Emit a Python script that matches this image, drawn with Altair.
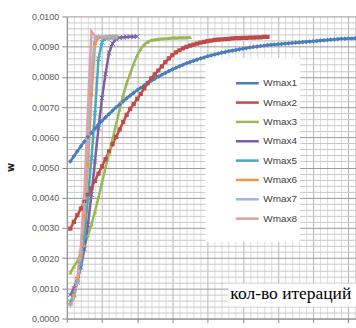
import altair as alt
import pandas as pd

series_names = ["Wmax1", "Wmax2", "Wmax3", "Wmax4", "Wmax5", "Wmax6", "Wmax7", "Wmax8"]

w1 = [0.00520, 0.00537, 0.00554, 0.00570, 0.00586, 0.00601, 0.00615, 0.00629, 0.00642, 0.00654,
      0.00666, 0.00677, 0.00688, 0.00699, 0.00709, 0.00719, 0.00729, 0.00738, 0.00747, 0.00756,
      0.00764, 0.00772, 0.00780, 0.00787, 0.00794, 0.00801, 0.00807, 0.00813, 0.00819, 0.00825,
      0.00830, 0.00835, 0.00840, 0.00845, 0.00849, 0.00853, 0.00857, 0.00861, 0.00864, 0.00868,
      0.00871, 0.00874, 0.00877, 0.00880, 0.00882, 0.00885, 0.00887, 0.00889, 0.00891, 0.00893,
      0.00895, 0.00897, 0.00899, 0.00900, 0.00902, 0.00903, 0.00905, 0.00906, 0.00907, 0.00908,
      0.00909, 0.00910, 0.00911, 0.00912, 0.00913, 0.00914, 0.00915, 0.00916, 0.00917, 0.00918,
      0.00919, 0.00920, 0.00921, 0.00922, 0.00923, 0.00924, 0.00925, 0.00926, 0.00926, 0.00927,
      0.00927, 0.00928]
w2 = [0.00298, 0.00320, 0.00342, 0.00364, 0.00386, 0.00409, 0.00432, 0.00456, 0.00480, 0.00504,
      0.00528, 0.00553, 0.00577, 0.00601, 0.00626, 0.00650, 0.00674, 0.00694, 0.00710, 0.00727,
      0.00744, 0.00762, 0.00779, 0.00795, 0.00808, 0.00821, 0.00835, 0.00849, 0.00861, 0.00872,
      0.00881, 0.00888, 0.00894, 0.00899, 0.00903, 0.00907, 0.00910, 0.00913, 0.00916, 0.00918,
      0.00920, 0.00922, 0.00923, 0.00924, 0.00925, 0.00926, 0.00927, 0.00928, 0.00928, 0.00929,
      0.00929, 0.00930, 0.00930, 0.00931, 0.00931, 0.00932, 0.00932]
w3 = [0.00152, 0.00172, 0.00190, 0.00215, 0.00242, 0.00275, 0.00311, 0.00354, 0.00401, 0.00450,
      0.00500, 0.00546, 0.00593, 0.00642, 0.00692, 0.00738, 0.00778, 0.00811, 0.00843, 0.00871,
      0.00892, 0.00907, 0.00916, 0.00921, 0.00923, 0.00925, 0.00926, 0.00927, 0.00928, 0.00929,
      0.00929, 0.00930, 0.00930, 0.00930, 0.00931]
w4 = [0.00078, 0.00100, 0.00130, 0.00170, 0.00230, 0.00310, 0.00410, 0.00520, 0.00630, 0.00730,
      0.00810, 0.00880, 0.00910, 0.00925, 0.00930, 0.00931, 0.00932, 0.00933, 0.00933, 0.00934]
w5 = [0.00055, 0.00080, 0.00120, 0.00180, 0.00270, 0.00400, 0.00530, 0.00680, 0.00860, 0.00915,
      0.00928, 0.00930, 0.00931, 0.00931]
w6 = [0.00048, 0.00075, 0.00130, 0.00210, 0.00340, 0.00510, 0.00740, 0.00910, 0.00930, 0.00931,
      0.00931, 0.00931, 0.00932, 0.00932]
w7 = [0.00045, 0.00070, 0.00120, 0.00220, 0.00380, 0.00580, 0.00820, 0.00930, 0.00932, 0.00932,
      0.00932, 0.00932, 0.00932, 0.00932]
w8 = [0.00042, 0.00070, 0.00130, 0.00240, 0.00420, 0.00690, 0.00950, 0.00935, 0.00932, 0.00932,
      0.00932, 0.00932, 0.00932, 0.00932]

all_series = [w1, w2, w3, w4, w5, w6, w7, w8]
y_title = "w"
x_title = "кол-во итераций"

colors = ["#4A7EBB", "#BE4B48", "#98B954", "#7D60A0", "#46AAC5", "#F69240", "#9DB6DD", "#E2A0A0"]
line_widths = [2.5, 2.5, 2.5, 2.5, 2.5, 2.5, 1.2, 1.2]
x_path = "M-1,-1L1,1M1,-1L-1,1"
star_path = "M-1,-1L1,1M1,-1L-1,1M0,-1.2L0,1.2"
plus_path = "M-1.2,0L1.2,0M0,-1.2L0,1.2"
# marker per series: (shape, filled, size); None = no marker
markers = [("diamond", True, 22), ("square", True, 18), ("triangle-up", True, 18),
           (x_path, False, 22), (star_path, False, 24), ("circle", True, 18),
           (plus_path, False, 22), None]

rows = []
for name, vals in zip(series_names, all_series):
    for i, v in enumerate(vals, start=1):
        rows.append({"series": name, "iter": i, "w": v})
df = pd.DataFrame(rows)

major_y = "round(datum.value*10000) % 10 == 0"
y_vals = [round(i * 0.0002, 4) for i in range(51)]
x_vals = list(range(0, 83, 2))

x_enc = alt.X(
    "iter:Q",
    scale=alt.Scale(domain=[0, 82.15], nice=False, zero=False),
    axis=alt.Axis(
        values=x_vals, tickCount=200, labels=False, title=None, grid=True, labelOverlap=False,
        gridColor={"condition": {"test": "datum.value % 10 == 0", "value": "#b4b4b4"}, "value": "#dcdcdc"},
        tickColor={"condition": {"test": "datum.value % 10 == 0", "value": "#8c8c8c"}, "value": "transparent"},
        tickSize=4, domainColor="#8c8c8c",
    ),
)
y_enc = alt.Y(
    "w:Q",
    scale=alt.Scale(domain=[0, 0.01], nice=False),
    axis=alt.Axis(
        values=y_vals, tickCount=200, labelOverlap=False,
        labelExpr=major_y + " ? replace(format(datum.value, '.4f'), '.', ',') : ''",
        grid=True,
        gridColor={"condition": {"test": major_y, "value": "#9a9a9a"}, "value": "#c8c8c8"},
        tickColor={"condition": {"test": major_y, "value": "#8c8c8c"}, "value": "transparent"},
        tickSize=5, domainColor="#8c8c8c",
        labelFont="Liberation Sans", labelFontSize=9, labelColor="#5a5a5a", labelPadding=3,
        title=y_title, titleFont="DejaVu Sans", titleFontSize=10, titleFontWeight="bold",
        titleColor="#222222", titleX=-56, titleY=151, titleAlign="center", titleBaseline="middle",
    ),
)

color_scale = alt.Scale(domain=series_names, range=colors)

lines = alt.Chart(df).mark_line(clip=True).encode(
    x=x_enc, y=y_enc,
    color=alt.Color(
        "series:N", scale=color_scale,
        legend=alt.Legend(
            orient="none", legendX=176, legendY=62, title=None,
            symbolType="M-4,0L4,0", symbolSize=33, labelFont="Liberation Sans",
            labelFontSize=10, labelColor="#404040", rowPadding=9.4, labelOffset=11, padding=0,
        ),
    ),
    strokeWidth=alt.StrokeWidth("series:N", scale=alt.Scale(domain=series_names, range=line_widths)),
    detail="series:N",
)

point_layers = []
for name, color, mk in zip(series_names, colors, markers):
    if mk is None:
        continue
    shape, filled, size = mk
    point_layers.append(
        alt.Chart(df).transform_filter(alt.datum.series == name).mark_point(
            shape=shape, filled=filled, opacity=1, strokeWidth=1, size=size, color=color, clip=True
        ).encode(x="iter:Q", y="w:Q")
    )

box_df = pd.DataFrame({"k": [0]})
legend_box = alt.Chart(box_df).mark_rect(color="white").encode(
    x=alt.value(139), x2=alt.value(234), y=alt.value(42), y2=alt.value(226)
)
title_box = alt.Chart(box_df).mark_rect(color="white").encode(
    x=alt.value(162), x2=alt.value(290), y=alt.value(268), y2=alt.value(291)
)
title_text = alt.Chart(box_df).mark_text(
    align="left", baseline="alphabetic", font="Liberation Serif", fontSize=17.5, color="#000000"
).encode(x=alt.value(164), y=alt.value(283.5), text=alt.value(x_title))

chart = alt.layer(lines, *point_layers, legend_box, title_box, title_text).properties(
    width=290, height=303,
    autosize=alt.AutoSizeParams(type="none"),
    padding={"left": 67, "top": 16, "right": 0, "bottom": 9},
).configure_view(stroke=None)

chart.save("out.html", embed_options={"renderer": "svg", "actions": False})
